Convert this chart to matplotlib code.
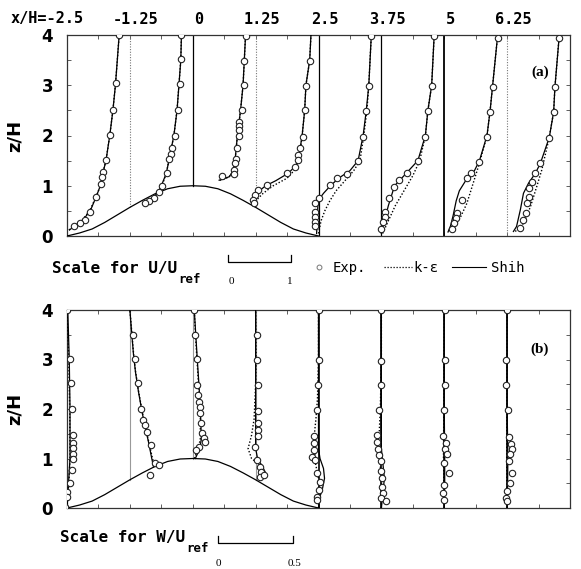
import numpy as np
import matplotlib.pyplot as plt
import matplotlib.transforms as mtransforms
from matplotlib.lines import Line2D

# stations along the hill (x/H)
stations = [-2.5, -1.25, 0, 1.25, 2.5, 3.75, 5, 6.25]
station_labels = ["x/H=-2.5", "-1.25", "0", "1.25", "2.5", "3.75", "5", "6.25"]

# hill shape
hill_x = [-2.5, -2.25, -2.0, -1.75, -1.5, -1.25, -1.0, -0.75, -0.5, -0.25, 0.0,
          0.25, 0.5, 0.75, 1.0, 1.25, 1.5, 1.75, 2.0, 2.25, 2.5]
hill_z = [0.0, 0.06, 0.14, 0.27, 0.42, 0.57, 0.71, 0.84, 0.94, 0.99, 1.0,
          0.99, 0.94, 0.84, 0.71, 0.57, 0.42, 0.27, 0.14, 0.06, 0.0]

# ---- (a) U/Uref profiles ----
u_exp_z = [
    [4.0, 3.04, 2.51, 2.01, 1.51, 1.28, 1.18, 1.03, 0.78, 0.48, 0.32, 0.25, 0.19],
    [4.0, 3.52, 3.02, 2.51, 1.99, 1.75, 1.63, 1.53, 1.25, 1.0, 0.87, 0.76, 0.70, 0.66],
    [3.98, 3.49, 3.0, 2.51, 2.27, 2.18, 2.11, 1.99, 1.75, 1.53, 1.45, 1.31, 1.23, 1.19],
    [3.49, 2.99, 2.51, 1.98, 1.75, 1.61, 1.51, 1.38, 1.25, 1.01, 0.92, 0.82, 0.72, 0.65],
    [3.98, 2.99, 2.49, 1.98, 1.49, 1.23, 1.15, 1.01, 0.75, 0.65, 0.48, 0.38, 0.28, 0.19],
    [3.98, 2.99, 2.49, 1.98, 1.49, 1.25, 1.11, 0.98, 0.75, 0.48, 0.38, 0.28, 0.13],
    [3.95, 2.96, 2.47, 1.98, 1.48, 1.25, 1.15, 0.72, 0.46, 0.35, 0.25, 0.14],
    [3.95, 2.96, 2.47, 1.96, 1.45, 1.25, 1.08, 0.95, 0.78, 0.65, 0.45, 0.32, 0.15],
]
u_exp = [
    [0.83, 0.78, 0.73, 0.68, 0.62, 0.58, 0.56, 0.54, 0.46, 0.37, 0.29, 0.21, 0.11],
    [0.82, 0.82, 0.79, 0.76, 0.71, 0.67, 0.65, 0.62, 0.59, 0.51, 0.46, 0.38, 0.30, 0.24],
    [0.84, 0.82, 0.82, 0.78, 0.74, 0.74, 0.73, 0.73, 0.70, 0.68, 0.67, 0.66, 0.65, 0.46],
    [0.86, 0.80, 0.78, 0.75, 0.70, 0.68, 0.67, 0.62, 0.50, 0.18, 0.04, -0.01, -0.04, -0.02],
    [0.84, 0.80, 0.76, 0.71, 0.63, 0.45, 0.29, 0.19, 0.0, -0.05, -0.06, -0.06, -0.06, -0.06],
    [0.84, 0.80, 0.74, 0.70, 0.58, 0.41, 0.28, 0.20, 0.12, 0.06, 0.05, 0.02, 0.0],
    [0.85, 0.77, 0.73, 0.68, 0.56, 0.42, 0.36, 0.28, 0.21, 0.19, 0.15, 0.12],
    [0.83, 0.76, 0.74, 0.67, 0.53, 0.45, 0.39, 0.35, 0.34, 0.32, 0.30, 0.26, 0.21],
]
u_shih_z = [
    [0.12, 0.2, 0.3, 0.5, 0.8, 1.0, 1.3, 1.5, 2.0, 2.5, 3.0, 4.0],
    [0.66, 0.72, 0.8, 0.9, 1.0, 1.25, 1.5, 2.0, 2.5, 3.0, 3.5, 4.0],
    [1.11, 1.14, 1.18, 1.25, 1.4, 1.6, 2.0, 2.5, 3.0, 3.5, 4.0],
    [0.62, 0.75, 0.9, 1.0, 1.1, 1.25, 1.4, 1.6, 2.0, 2.5, 3.0, 3.5, 4.0],
    [0.05, 0.3, 0.6, 0.75, 0.85, 1.0, 1.15, 1.3, 1.5, 2.0, 2.5, 3.0, 4.0],
    [0.05, 0.3, 0.6, 0.8, 1.0, 1.2, 1.5, 2.0, 2.5, 3.0, 4.0],
    [0.08, 0.2, 0.4, 0.7, 0.9, 1.1, 1.3, 1.5, 2.0, 2.5, 3.0, 4.0],
    [0.09, 0.19, 0.52, 0.85, 1.05, 1.25, 1.45, 1.96, 2.47, 2.96, 4.0],
]
u_shih = [
    [0.04, 0.12, 0.24, 0.37, 0.47, 0.53, 0.58, 0.62, 0.68, 0.73, 0.77, 0.83],
    [0.22, 0.32, 0.40, 0.46, 0.50, 0.58, 0.62, 0.70, 0.75, 0.78, 0.81, 0.82],
    [0.42, 0.50, 0.58, 0.62, 0.66, 0.68, 0.71, 0.76, 0.80, 0.82, 0.84],
    [-0.04, 0.0, 0.06, 0.16, 0.32, 0.52, 0.64, 0.69, 0.74, 0.78, 0.80, 0.86, 0.88],
    [-0.03, -0.02, -0.01, 0.02, 0.08, 0.19, 0.32, 0.50, 0.63, 0.71, 0.76, 0.80, 0.84],
    [0.0, 0.05, 0.11, 0.16, 0.21, 0.36, 0.58, 0.70, 0.74, 0.80, 0.84],
    [0.06, 0.10, 0.14, 0.19, 0.24, 0.34, 0.48, 0.56, 0.68, 0.73, 0.77, 0.85],
    [0.10, 0.15, 0.21, 0.26, 0.34, 0.45, 0.53, 0.67, 0.74, 0.76, 0.83],
]
u_ke_z = [
    [0.12, 0.2, 0.3, 0.5, 0.8, 1.0, 1.3, 1.5, 2.0, 2.5, 3.0, 4.0],
    [0.66, 0.72, 0.8, 0.9, 1.0, 1.25, 1.5, 2.0, 2.5, 3.0, 3.5, 4.0],
    [1.11, 1.14, 1.18, 1.25, 1.4, 1.6, 2.0, 2.5, 3.0, 3.5, 4.0],
    [0.62, 0.75, 0.85, 1.0, 1.15, 1.3, 1.45, 1.6, 2.0, 2.5, 3.0, 3.5, 4.0],
    [0.05, 0.3, 0.5, 0.7, 0.9, 1.1, 1.3, 1.5, 2.0, 2.5, 3.0, 4.0],
    [0.05, 0.3, 0.6, 0.9, 1.2, 1.5, 2.0, 2.5, 3.0, 4.0],
    [0.1, 0.38, 0.65, 1.05, 1.45, 2.0, 2.5, 3.0, 4.0],
    [0.09, 0.25, 0.58, 0.98, 1.31, 1.96, 2.47, 2.96, 4.0],
]
u_ke = [
    [0.03, 0.11, 0.23, 0.36, 0.47, 0.53, 0.58, 0.62, 0.68, 0.73, 0.77, 0.83],
    [0.23, 0.33, 0.41, 0.47, 0.51, 0.58, 0.62, 0.70, 0.75, 0.78, 0.81, 0.82],
    [0.43, 0.51, 0.58, 0.62, 0.66, 0.68, 0.71, 0.76, 0.80, 0.82, 0.84],
    [-0.02, 0.04, 0.12, 0.28, 0.50, 0.61, 0.67, 0.70, 0.74, 0.78, 0.80, 0.86, 0.88],
    [0.0, 0.04, 0.10, 0.18, 0.28, 0.42, 0.56, 0.66, 0.72, 0.77, 0.80, 0.84],
    [0.02, 0.11, 0.22, 0.36, 0.50, 0.61, 0.70, 0.74, 0.80, 0.84],
    [0.12, 0.26, 0.36, 0.46, 0.56, 0.68, 0.73, 0.77, 0.85],
    [0.13, 0.26, 0.37, 0.47, 0.55, 0.67, 0.74, 0.76, 0.83],
]

# ---- (b) W/Uref profiles ----
w_exp_z = [
    [4.0, 3.02, 2.52, 2.01, 1.47, 1.31, 1.21, 1.10, 1.0, 0.77, 0.50, 0.33, 0.23, 0.03],
    [3.49, 3.02, 2.52, 2.01, 1.78, 1.68, 1.54, 1.27, 0.90, 0.87, 0.67],
    [4.0, 3.49, 3.01, 2.48, 2.28, 2.15, 2.05, 1.91, 1.71, 1.51, 1.41, 1.34, 1.24, 1.17],
    [3.49, 2.99, 2.48, 1.96, 1.71, 1.58, 1.46, 1.24, 0.97, 0.83, 0.73, 0.63, 0.67],
    [4.0, 3.0, 2.49, 1.98, 1.45, 1.31, 1.17, 1.04, 0.97, 0.70, 0.53, 0.36, 0.23, 0.16],
    [4.0, 2.97, 2.48, 1.98, 1.47, 1.34, 1.2, 1.07, 0.94, 0.75, 0.6, 0.43, 0.3, 0.2, 0.14],
    [4.0, 3.0, 2.49, 1.98, 1.45, 1.31, 1.2, 1.1, 0.9, 0.7, 0.47, 0.3, 0.16],
    [4.0, 3.0, 2.49, 1.98, 1.44, 1.3, 1.2, 1.1, 0.95, 0.7, 0.5, 0.35, 0.2, 0.14],
]
w_exp = [
    [0.0, 0.02, 0.027, 0.03, 0.037, 0.037, 0.043, 0.037, 0.037, 0.03, 0.017, 0.0, 0.0, -0.013],
    [0.023, 0.033, 0.053, 0.073, 0.09, 0.10, 0.113, 0.14, 0.167, 0.19, 0.133],
    [0.01, 0.017, 0.027, 0.03, 0.037, 0.04, 0.047, 0.047, 0.057, 0.063, 0.073, 0.08, 0.04, 0.02],
    [0.007, 0.007, 0.017, 0.017, 0.017, 0.017, 0.017, -0.003, 0.007, 0.027, 0.037, 0.03, 0.053],
    [0.0, 0.0, -0.003, -0.01, -0.027, -0.033, -0.03, -0.04, -0.02, -0.01, 0.007, 0.0, -0.01, -0.007],
    [0.0, -0.003, -0.003, -0.013, -0.027, -0.03, -0.02, -0.013, -0.003, 0.0, 0.007, 0.007, 0.01, 0.0, 0.03],
    [0.007, 0.007, 0.007, 0.0, -0.01, 0.01, 0.007, 0.017, 0.0, 0.033, 0.0, -0.007, 0.0],
    [0.0, -0.007, -0.007, 0.007, 0.01, 0.027, 0.033, 0.02, 0.013, 0.033, 0.017, 0.0, -0.007, 0.0],
]
w_shih_z = [
    [0.0, 0.5, 1.0, 2.0, 3.0, 4.0],
    [0.83, 1.0, 1.34, 1.65, 1.95, 2.35, 2.75, 3.1, 3.5, 4.0],
    [1.0, 1.2, 1.4, 1.8, 2.4, 3.0, 3.5, 4.0],
    [0.6, 0.65, 0.73, 0.85, 1.0, 1.2, 2.0, 3.0, 4.0],
    [0.0, 0.2, 0.4, 0.6, 0.8, 1.0, 1.2, 1.5, 2.0, 3.0, 4.0],
    [0.0, 0.3, 0.6, 0.9, 1.2, 2.0, 4.0],
    [0.0, 0.5, 1.0, 2.0, 4.0],
    [0.0, 0.5, 1.0, 2.0, 4.0],
]
w_shih = [
    [0.0, 0.01, 0.02, 0.02, 0.015, 0.005],
    [0.157, 0.145, 0.123, 0.10, 0.08, 0.057, 0.037, 0.024, 0.013, 0.0],
    [0.017, 0.047, 0.057, 0.053, 0.043, 0.03, 0.02, 0.01],
    [0.027, 0.057, 0.063, 0.043, 0.013, 0.0, 0.0, 0.0, 0.0],
    [0.0, 0.007, 0.027, 0.04, 0.033, 0.01, 0.0, 0.0, 0.0, 0.0, 0.0],
    [0.0, 0.01, 0.02, 0.01, 0.0, 0.0, 0.0],
    [0.0, 0.003, 0.003, 0.0, 0.0],
    [0.0, 0.003, 0.005, 0.0, 0.0],
]
w_ke_z = [
    [0.0, 0.5, 1.0, 2.0, 3.0, 4.0],
    [0.83, 1.0, 1.34, 1.65, 1.95, 2.35, 2.75, 3.1, 3.5, 4.0],
    [1.0, 1.2, 1.4, 1.8, 2.4, 3.0, 3.5, 4.0],
    [0.6, 0.67, 0.87, 1.0, 1.2, 1.47, 1.8, 2.5, 3.0, 4.0],
    [0.0, 0.3, 0.6, 0.9, 1.2, 1.5, 1.8, 2.2, 3.0, 4.0],
    [0.0, 0.5, 1.0, 1.3, 1.6, 2.0, 3.0, 4.0],
    [0.0, 1.0, 2.0, 4.0],
    [0.0, 1.0, 2.0, 4.0],
]
w_ke = [
    [0.0, 0.012, 0.02, 0.018, 0.012, 0.0],
    [0.165, 0.15, 0.125, 0.102, 0.082, 0.058, 0.038, 0.025, 0.014, 0.0],
    [0.01, 0.037, 0.05, 0.05, 0.04, 0.028, 0.018, 0.01],
    [0.05, 0.07, 0.027, -0.027, -0.05, -0.027, -0.01, 0.0, 0.003, 0.0],
    [0.0, 0.003, 0.0, -0.02, -0.027, -0.027, -0.017, -0.007, 0.0, 0.0],
    [0.0, 0.0, -0.01, -0.017, -0.013, -0.007, 0.0, 0.0],
    [0.0, -0.005, -0.003, 0.0],
    [0.0, -0.003, -0.002, 0.0],
]

U_SCALE = 1.25  # x/H per unit U/Uref
W_SCALE = 3.0   # x/H per unit W/Uref

W, H = 581, 569
fig = plt.figure(figsize=(W / 100, H / 100), dpi=100)


def fx(px):
    return px / W


def fy(py):
    return 1 - py / H


ax_u = fig.add_axes([fx(67), fy(236), fx(570) - fx(67), fy(35) - fy(236)])
ax_w = fig.add_axes([fx(67), fy(508), fx(570) - fx(67), fy(310) - fy(508)])

mono = "DejaVu Sans Mono"
dot = (0, (1, 1.4))
circ = dict(marker="o", ms=4.6, mfc="white", mec="#222222", mew=0.8, ls="none", zorder=5)


def hill_at(x):
    return float(np.interp(x, hill_x, hill_z))


def frame(ax):
    ax.set_xlim(-2.5, 7.5)
    ax.set_ylim(0, 4)
    ax.set_xticks(np.arange(-2.5, 7.51, 0.625))
    ax.set_xticklabels([])
    ax.set_yticks([0, 1, 2, 3, 4])
    ax.set_yticks(np.arange(0.5, 4, 1.0), minor=True)
    ax.tick_params(which="both", direction="in", length=3, width=0.6,
                   top=True, right=True, color="#444444")
    ax.tick_params(axis="y", which="major", labelsize=12, pad=10)
    for lab in ax.get_yticklabels():
        lab.set_fontweight("bold")
    for sp in ax.spines.values():
        sp.set_linewidth(0.9)
        sp.set_color("#333333")
    ax.set_ylabel("z/H", fontsize=13, fontweight="bold")
    ax.yaxis.set_label_coords((24 - 67) / (570 - 67), 0.5)
    ax.plot(hill_x, hill_z, color="black", lw=0.9, zorder=3)


frame(ax_u)
frame(ax_w)

# reference (zero) lines at each station
u_ref_style = [None, ("#777777", dot, 0.8), ("black", "-", 0.9), ("#777777", dot, 0.8),
               ("black", "-", 0.9), ("black", "-", 0.9), ("black", "-", 1.3), ("#777777", dot, 0.8)]
w_ref_style = [None, ("#999999", "-", 0.8), ("#999999", "-", 0.8), ("#999999", "-", 0.8),
               ("black", "-", 1.2), ("black", "-", 1.2), ("black", "-", 1.2), ("black", "-", 1.2)]
for i, x0 in enumerate(stations):
    z0 = hill_at(x0)
    for ax, st in ((ax_u, u_ref_style[i]), (ax_w, w_ref_style[i])):
        if st is None:
            continue
        c, ls, lw = st
        ax.plot([x0, x0], [z0, 4], color=c, ls=ls, lw=lw, zorder=2)

# profiles
for i, x0 in enumerate(stations):
    ax_u.plot(x0 + U_SCALE * np.array(u_ke[i]), u_ke_z[i], color="black", ls=dot, lw=1.0, zorder=3)
    ax_u.plot(x0 + U_SCALE * np.array(u_shih[i]), u_shih_z[i], color="black", lw=0.9, zorder=4)
    ax_u.plot(x0 + U_SCALE * np.array(u_exp[i]), u_exp_z[i], **circ)

    ax_w.plot(x0 + W_SCALE * np.array(w_ke[i]), w_ke_z[i], color="black", ls=dot, lw=1.0, zorder=3)
    ax_w.plot(x0 + W_SCALE * np.array(w_shih[i]), w_shih_z[i], color="black", lw=0.9, zorder=4)
    ax_w.plot(x0 + W_SCALE * np.array(w_exp[i]), w_exp_z[i], **circ)

# station labels across the top
trans = mtransforms.blended_transform_factory(ax_u.transData, fig.transFigure)
for i, (x0, lab) in enumerate(zip(stations, station_labels)):
    if i == 0:
        fig.text(x0 + 0.32, fy(19), lab, transform=trans, ha="right", va="center",
                 fontsize=11, family=mono, fontweight="bold")
    else:
        fig.text(x0 + 0.12, fy(19), lab, transform=trans, ha="center", va="center",
                 fontsize=11, family=mono, fontweight="bold")

ax_u.text(0.94, 0.815, "(a)", transform=ax_u.transAxes, ha="center", va="center",
          fontsize=11, family="Liberation Serif", fontweight="bold")
ax_w.text(0.94, 0.80, "(b)", transform=ax_w.transAxes, ha="center", va="center",
          fontsize=11, family="Liberation Serif", fontweight="bold")


def scale_label(px, py, name, x0, x1, ybar, ticks):
    t = fig.text(fx(px), fy(py), "Scale for " + name + "/U", fontsize=11.5,
                 family=mono, fontweight="bold", ha="left", va="baseline")
    fig.text(0, 0, "", transform=fig.transFigure)
    ann = plt.annotate("ref", xy=(1, 0), xycoords=t, xytext=(1, -5),
                       textcoords="offset points", fontsize=9, family=mono,
                       fontweight="bold", ha="left", va="baseline")
    fig.add_artist(Line2D([fx(x0), fx(x0), fx(x1), fx(x1)],
                          [fy(ybar - 7), fy(ybar), fy(ybar), fy(ybar - 7)],
                          color="black", lw=0.9))
    for tx, tl in ticks:
        fig.text(fx(tx), fy(ybar + 20), tl, fontsize=8, family="Liberation Serif",
                 ha="center", va="center")
    return ann


scale_label(52, 273, "U", 228, 291, 262, [(231, "0"), (290, "1")])
scale_label(60, 542, "W", 218, 293, 543, [(218, "0"), (294, "0.5")])

# legend
fig.add_artist(Line2D([fx(319)], [fy(267)], marker="o", ms=3.5, mfc="white",
                      mec="#777777", mew=0.7, ls="none"))
fig.text(fx(333), fy(268), "Exp.", fontsize=10, family=mono, ha="left", va="center")
fig.add_artist(Line2D([fx(384), fx(412)], [fy(267), fy(267)], color="black",
                      ls=dot, lw=0.9))
fig.text(fx(413), fy(268), "k-ε", fontsize=10, family=mono, ha="left", va="center")
fig.add_artist(Line2D([fx(452), fx(486)], [fy(267), fy(267)], color="black", lw=0.8))
fig.text(fx(491), fy(268), "Shih", fontsize=10, family=mono, ha="left", va="center")

fig.savefig("out.png", dpi=100)
